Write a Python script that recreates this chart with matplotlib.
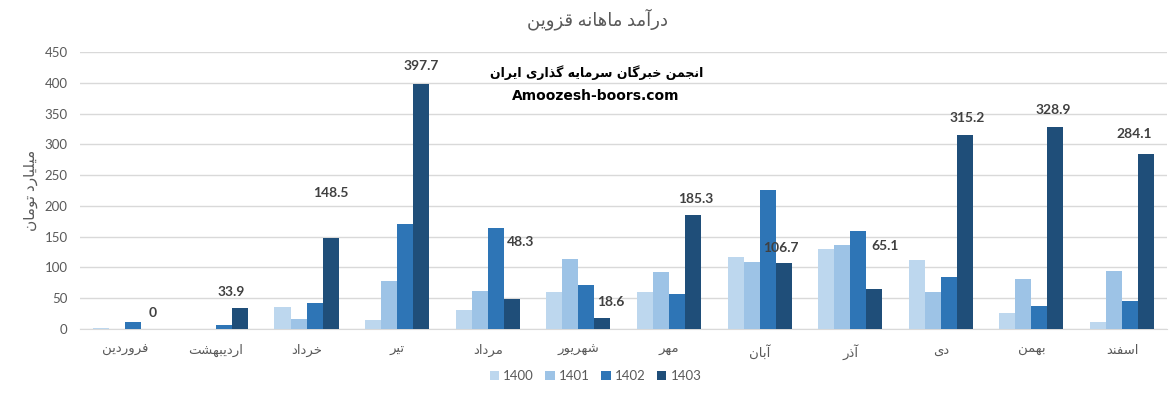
import matplotlib
matplotlib.use("Agg")
import matplotlib.pyplot as plt
import numpy as np

# --- data ---
months = ["فروردین", "اردیبهشت", "خرداد", "تیر", "مرداد", "شهریور",
          "مهر", "آبان", "آذر", "دی", "بهمن", "اسفند"]
years = ["1400", "1401", "1402", "1403"]
rev_1400 = [1, 0, 36, 15, 31, 60, 60, 117, 130, 112, 26, 11]
rev_1401 = [0, 0, 17, 78, 62, 114, 93, 109, 136, 60, 81, 94]
rev_1402 = [12, 7, 42, 170, 164, 71, 57, 226, 159, 84, 37, 46]
rev_1403 = [0, 33.9, 148.5, 397.7, 48.3, 18.6, 185.3, 106.7, 65.1, 315.2, 328.9, 284.1]

title = "درآمد ماهانه قزوین"
ylabel = "میلیارد تومان"
watermark_fa = "انجمن خبرگان سرمایه گذاری ایران"
watermark_en = "Amoozesh-boors.com"

colors = ["#BDD7EE", "#9DC3E6", "#2E75B6", "#1F4E79"]

# matplotlib has no arabic shaping, so pick presentation forms by hand
# (isolated, final, initial, medial)
FORMS = {
    "ا": ("\uFE8D", "\uFE8E", None, None),
    "آ": ("\uFE81", "\uFE82", None, None),
    "ب": ("\uFE8F", "\uFE90", "\uFE91", "\uFE92"),
    "ت": ("\uFE95", "\uFE96", "\uFE97", "\uFE98"),
    "ج": ("\uFE9D", "\uFE9E", "\uFE9F", "\uFEA0"),
    "خ": ("\uFEA5", "\uFEA6", "\uFEA7", "\uFEA8"),
    "د": ("\uFEA9", "\uFEAA", None, None),
    "ذ": ("\uFEAB", "\uFEAC", None, None),
    "ر": ("\uFEAD", "\uFEAE", None, None),
    "ز": ("\uFEAF", "\uFEB0", None, None),
    "س": ("\uFEB1", "\uFEB2", "\uFEB3", "\uFEB4"),
    "ش": ("\uFEB5", "\uFEB6", "\uFEB7", "\uFEB8"),
    "ف": ("\uFED1", "\uFED2", "\uFED3", "\uFED4"),
    "ق": ("\uFED5", "\uFED6", "\uFED7", "\uFED8"),
    "ل": ("\uFEDD", "\uFEDE", "\uFEDF", "\uFEE0"),
    "م": ("\uFEE1", "\uFEE2", "\uFEE3", "\uFEE4"),
    "ن": ("\uFEE5", "\uFEE6", "\uFEE7", "\uFEE8"),
    "ه": ("\uFEE9", "\uFEEA", "\uFEEB", "\uFEEC"),
    "و": ("\uFEED", "\uFEEE", None, None),
    "ی": ("\uFBFC", "\uFBFD", "\uFBFE", "\uFBFF"),
    "گ": ("\uFB92", "\uFB93", "\uFB94", "\uFB95"),
}


def fa(text):
    out = []
    for i, c in enumerate(text):
        if c not in FORMS:
            out.append(c)
            continue
        f = FORMS[c]
        prev = text[i - 1] if i > 0 else None
        nxt = text[i + 1] if i + 1 < len(text) else None
        jp = prev in FORMS and FORMS[prev][2] is not None
        jn = nxt in FORMS and f[2] is not None
        if jp and jn:
            out.append(f[3])
        elif jp:
            out.append(f[1])
        elif jn:
            out.append(f[2])
        else:
            out.append(f[0])
    return "".join(reversed(out))


plt.rcParams["font.family"] = ["Lato", "DejaVu Sans"]

fig = plt.figure(figsize=(11.72, 3.97), dpi=100)
ax = fig.add_axes([0.0683, 0.1713, 0.9277, 0.6977])

x = np.arange(len(months))
w = 0.177
series = [rev_1400, rev_1401, rev_1402, rev_1403]
for k, (vals, c) in enumerate(zip(series, colors)):
    ax.bar(x + (k - 1.5) * w, vals, width=w, color=c, label=years[k], zorder=3)

# data labels for 1403 (manually nudged like in the original)
offsets = [(3, 16), (-9, 16), (0, 45), (0, 18), (9, 57), (8, 16),
           (3, 16), (-3, 15), (11, 43), (2, 17), (-2, 17), (-12, 20)]
for i, v in enumerate(rev_1403):
    ax.annotate(f"{v:g}", (x[i] + 1.5 * w, v), xytext=offsets[i],
                textcoords="offset pixels", ha="center", va="center",
                fontsize=10, fontweight="bold", color="#404040")

ax.set_xlim(-0.5, len(months) - 0.5)
ax.set_ylim(0, 450)
ax.set_yticks(np.arange(0, 451, 50))
ax.set_xticks(x)
ax.set_xticklabels([fa(m) for m in months])
ax.tick_params(axis="both", length=0, colors="#595959", labelsize=9.5)
ax.tick_params(axis="x", pad=11)
ax.tick_params(axis="y", pad=9)
ax.grid(axis="y", color="#D9D9D9", linewidth=1, zorder=0)
for s in ["top", "right", "left"]:
    ax.spines[s].set_visible(False)
ax.spines["bottom"].set_color("#D9D9D9")

ax.set_ylabel(fa(ylabel), color="#595959", fontsize=11)
ax.yaxis.set_label_coords(-0.039, 0.5)

fig.text(0.51, 0.952, fa(title), ha="center", va="center", fontsize=13, color="#595959")
fig.text(0.509, 0.818, fa(watermark_fa), ha="center", va="center", fontsize=9,
         fontweight="bold", color="black", family="DejaVu Sans")
fig.text(0.508, 0.758, watermark_en, ha="center", va="center", fontsize=10,
         fontweight="bold", color="black", family="DejaVu Sans")

ax.legend(loc="upper center", bbox_to_anchor=(0.474, -0.105), ncol=4, frameon=False,
          fontsize=9.5, handlelength=0.7, handleheight=0.7, handletextpad=0.3,
          columnspacing=0.9, labelcolor="#595959")

fig.savefig("out.png", dpi=100)
